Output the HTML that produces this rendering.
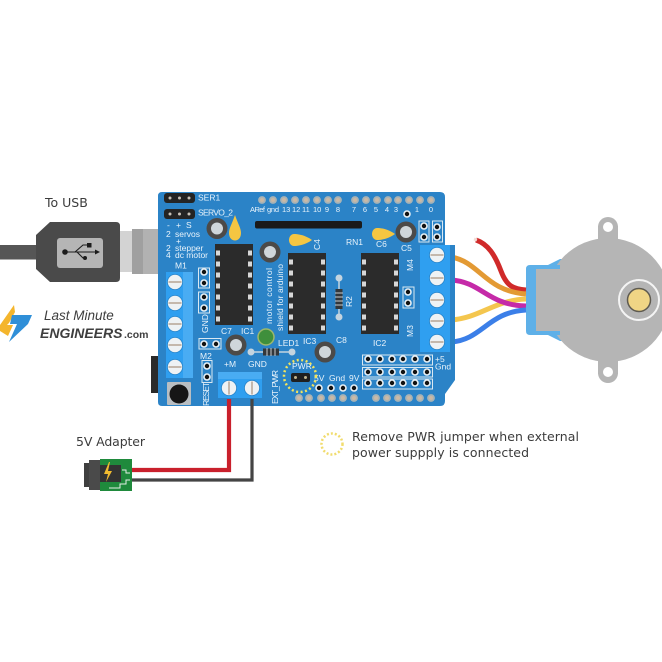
<!DOCTYPE html>
<html><head><meta charset="utf-8"><style>
html,body{margin:0;padding:0;background:#fff}
svg{display:block;filter:blur(.3px)}
text{font-family:"Liberation Sans",sans-serif;fill:#e8f3fb;font-size:8.5px}
.m{text-anchor:middle}
.d{font-family:"DejaVu Sans","Liberation Sans",sans-serif;fill:#3c3c3c;font-size:12.5px}
</style></head><body>
<svg width="662" height="662" viewBox="0 0 662 662" xmlns="http://www.w3.org/2000/svg">
<defs>
<g id="h"><circle r="3.8" fill="#e8f0f5"/><circle r="2.2" fill="#111"/></g>
<g id="p"><circle r="3.9" fill="#a9b3b5"/><circle r="2" fill="#cbb9a5"/></g>
<g id="s"><circle r="8" fill="#1f6fae" opacity=".6"/><circle r="7.2" fill="#eef2f4"/><rect x="-6.5" y="-.8" width="13" height="1.6" fill="#b9a99a"/></g>
<g id="pin"><path d="M-2-2.500H2V2.500H-2z" fill="#d8d8d8"/></g>
<g id="ic">
<rect width="38" height="81" fill="#2b2b2b"/>
<use href="#pin" x="3" y="9"/><use href="#pin" x="3" y="20"/><use href="#pin" x="3" y="31"/><use href="#pin" x="3" y="42"/><use href="#pin" x="3" y="53"/><use href="#pin" x="3" y="64"/><use href="#pin" x="3" y="75"/>
<use href="#pin" x="35" y="9"/><use href="#pin" x="35" y="20"/><use href="#pin" x="35" y="31"/><use href="#pin" x="35" y="42"/><use href="#pin" x="35" y="53"/><use href="#pin" x="35" y="64"/><use href="#pin" x="35" y="75"/>
</g>
<g id="cap"><circle r="10.500" fill="#4c4a48"/><circle r="6" fill="#cfd6da"/></g>
</defs>

<!-- motor -->
<circle cx="608" cy="227" r="10" fill="#b5b5b5"/><circle cx="608" cy="373" r="10" fill="#b5b5b5"/>
<rect x="598" y="226" width="20" height="20" fill="#b5b5b5"/><rect x="598" y="354" width="20" height="20" fill="#b5b5b5"/>
<circle cx="608" cy="227" r="5" fill="#fff"/><circle cx="608" cy="372" r="5" fill="#fff"/>
<path d="M548 265l12-6h20v82h-20l-12-6z" fill="#5eb0e8"/>
<circle cx="608" cy="300" r="62" fill="#b5b5b5"/>
<path d="M530 265h30v70h-30q-4 0-4-4v-62q0-4 4-4z" fill="#5eb0e8"/>
<rect x="536" y="269" width="50" height="62" fill="#b5b5b5"/>
<circle cx="639" cy="300" r="20" fill="#b5b5b5" stroke="#f4f4f4" stroke-width="2"/>
<circle cx="639" cy="300" r="11.500" fill="#f0d585" stroke="#5e5a50" stroke-width="1.500"/>

<!-- wires -->
<g fill="none" stroke-width="5">
<path d="M476 240C488 244 495 255 501 271S514 289 526 290" stroke="#d02a2a"/>
<path d="M474 239l3 1" stroke="#f3dcd5" stroke-width="3"/>
<path d="M451 257C480 262 485 291 526 294" stroke="#e39a34"/>
<path d="M451 320C480 318 495 300 526 299" stroke="#f4c64e"/>
<path d="M451 280C482 282 487 305 526 306" stroke="#c52aa8"/>
<path d="M451 342C482 340 488 312 526 310" stroke="#3b7fe8"/>
</g>

<!-- USB -->
<rect x="0" y="245" width="38" height="14.500" fill="#565656"/>
<rect x="120" y="231" width="13" height="41" fill="#d3d3d3"/>
<rect x="132" y="229" width="27" height="45" fill="#a0a0a0"/>
<rect x="143" y="229" width="16" height="45" fill="#b2b2b2"/>
<path d="M50 222H116q4 0 4 4v52q0 4-4 4H50L36 269V235z" fill="#4a4a4a"/>
<rect x="57" y="238" width="46" height="30" rx="3" fill="#b5b5b5"/>
<g stroke="#1c1c1c" stroke-width="1.100" fill="none"><path d="M65 252H97"/><path d="M75 252l8-7h6"/><path d="M77 252l6 6h2"/></g>
<circle cx="65" cy="252" r="2.800" fill="#1c1c1c"/><rect x="87" y="243" width="4.500" height="4.500" fill="#1c1c1c"/><circle cx="85" cy="258" r="2" fill="#1c1c1c"/><path d="M95 249.500l5 2.500-5 2.500z" fill="#1c1c1c"/>
<text class="d" x="45" y="207" style="font-size:12.500px">To USB</text>

<!-- logo -->
<path d="M14 305L0 325H7L9 323 15 312z" fill="#f4b52c"/>
<path d="M0 325H13L8 336 0 331z" fill="#f4b52c"/>
<path d="M12 315H32L28 324 9 342 17 324H10z" fill="#2f8fd8"/>
<text x="44" y="320" style="font-size:13.500px;font-style:italic;fill:#3e3e3e">Last Minute</text>
<text x="40" y="338" style="font-size:14px;font-style:italic;font-weight:bold;fill:#3e3e3e">ENGINEERS</text>
<text x="124" y="338" style="font-size:10.500px;font-weight:bold;fill:#3e3e3e">.com</text>

<!-- board -->
<rect x="151" y="356" width="9" height="37" fill="#2a2a2a"/>
<path d="M162 192H440q5 0 5 5V245H455V380L445 394V401q0 5-5 5H162q-4 0-4-4V196q0-4 4-4z" fill="#2b83c7"/>
<rect x="255" y="221" width="107" height="7.500" rx="2" fill="#1a1a1a"/>

<!-- headers -->
<rect x="164" y="193" width="31" height="10" rx="3" fill="#242424"/><rect x="164" y="209" width="31" height="10" rx="3" fill="#242424"/>
<g fill="#c9c2b8"><circle cx="170" cy="198" r="1.500"/><circle cx="179.500" cy="198" r="1.500"/><circle cx="189" cy="198" r="1.500"/><circle cx="170" cy="214" r="1.500"/><circle cx="179.500" cy="214" r="1.500"/><circle cx="189" cy="214" r="1.500"/></g>
<text x="198" y="200.500">SER1</text>
<text x="167" y="228">-</text><text x="176" y="228">+</text><text x="186" y="228">S</text>
<text x="166" y="237">2</text><text x="175" y="237">servos</text>
<text x="176" y="244">+</text>
<text x="166" y="251">2</text><text x="175" y="251">stepper</text>
<text x="166" y="258">4</text><text x="175" y="258" textLength="33">dc motor</text>
<text x="175" y="268.500">M1</text>

<!-- top holes -->
<use href="#p" x="262" y="200"/><use href="#p" x="273" y="200"/><use href="#p" x="284" y="200"/><use href="#p" x="295" y="200"/><use href="#p" x="306" y="200"/><use href="#p" x="317" y="200"/><use href="#p" x="328" y="200"/><use href="#p" x="338" y="200"/>
<use href="#p" x="355" y="200"/><use href="#p" x="366" y="200"/><use href="#p" x="377" y="200"/><use href="#p" x="388" y="200"/><use href="#p" x="398" y="200"/><use href="#p" x="409" y="200"/><use href="#p" x="420" y="200"/><use href="#p" x="431" y="200"/>
<g style="font-size:7.500px">
<text x="250" y="212" style="font-size:7.500px" textLength="15">ARef</text><text x="267" y="212" style="font-size:7.500px" textLength="12">gnd</text><text x="282" y="212" style="font-size:7.500px">13</text><text x="292" y="212" style="font-size:7.500px">12</text><text x="302" y="212" style="font-size:7.500px">11</text><text x="313" y="212" style="font-size:7.500px">10</text>
<text class="m" x="327" y="212" style="font-size:7.500px">9</text><text class="m" x="338" y="212" style="font-size:7.500px">8</text><text class="m" x="354" y="212" style="font-size:7.500px">7</text><text class="m" x="365" y="212" style="font-size:7.500px">6</text><text class="m" x="376" y="212" style="font-size:7.500px">5</text><text class="m" x="387" y="212" style="font-size:7.500px">4</text><text class="m" x="396" y="212" style="font-size:7.500px">3</text><text class="m" x="417" y="212" style="font-size:7.500px">1</text><text class="m" x="431" y="212" style="font-size:7.500px">0</text>
</g>
<use href="#h" x="407" y="214"/>

<!-- IC -->
<use href="#ic" x="215" y="244"/><use href="#ic" x="288" y="253"/><use href="#ic" x="361" y="253"/>

<!-- caps -->
<use href="#cap" x="217" y="228.500"/><use href="#cap" x="270" y="252"/><use href="#cap" x="406" y="232"/><use href="#cap" x="236" y="345"/><use href="#cap" x="325" y="352"/>
<path d="M235 215C232 224 229 228 229 233 229 238 232 240.500 235 240.500 238 240.500 241 238 241 233 241 228 238 224 235 215z" fill="#f5c642"/>
<path d="M312 240C305 235 298 234 294 234 291 234 289 237 289 240 289 243 291 246 294 246 298 246 305 245 312 240z" fill="#f5c642"/>
<path d="M395 234C388 229 381 228 377 228 374 228 372 231 372 234 372 237 374 240 377 240 381 240 388 239 395 234z" fill="#f5c642"/>

<!-- labels -->
<text x="198" y="215.500" textLength="35">SERVO_2</text>
<text x="221" y="334">C7</text><text x="241" y="334">IC1</text>
<text x="303" y="344">IC3</text><text x="336" y="343">C8</text><text x="373" y="346">IC2</text>
<text x="346" y="245">RN1</text><text x="376" y="247">C6</text><text x="401" y="251">C5</text>
<text x="278" y="346">LED1</text>
<text x="224" y="367">+M</text><text x="248" y="367">GND</text>
<text x="292" y="369">PWR</text>
<text x="314" y="381">5V</text><text x="329" y="381">Gnd</text><text x="349" y="381">9V</text>
<text x="435" y="362">+5</text><text x="435" y="369.500">Gnd</text>
<text x="200" y="359">M2</text>
<text transform="translate(320 250) rotate(-90)">C4</text>
<text transform="translate(413 271) rotate(-90)">M4</text>
<text transform="translate(413 337) rotate(-90)">M3</text>
<text transform="translate(352 307) rotate(-90)">R2</text>
<text transform="translate(208 333) rotate(-90)">GND</text>
<text transform="translate(209 406) rotate(-90)" textLength="24">RESET</text>
<text transform="translate(278 404) rotate(-90)" textLength="34">EXT_PWR</text>
<text transform="translate(272 324) rotate(-90)" textLength="56">motor control</text>
<text transform="translate(283 331) rotate(-90)" textLength="67">shield for arduino</text>

<!-- small headers -->
<g fill="none" stroke="#d9e8f2" stroke-width="1">
<rect x="198.500" y="268" width="11" height="20"/><rect x="198.500" y="292" width="11" height="21"/><rect x="199" y="338.500" width="22" height="10.500"/><rect x="202" y="360.500" width="10" height="22"/>
<rect x="419" y="221" width="10" height="21"/><rect x="432.500" y="221" width="10" height="21"/><rect x="403" y="287" width="11" height="21"/>
<rect x="362.500" y="355" width="70" height="10"/><rect x="362.500" y="367.500" width="70" height="9.500"/><rect x="362.500" y="379" width="70" height="10"/>
</g>
<use href="#h" x="204" y="272"/><use href="#h" x="204" y="283"/><use href="#h" x="204" y="297"/><use href="#h" x="204" y="308"/>
<use href="#h" x="204" y="344"/><use href="#h" x="216" y="344"/><use href="#h" x="207" y="366"/><use href="#h" x="207" y="377"/>
<use href="#h" x="424" y="226"/><use href="#h" x="437" y="227"/><use href="#h" x="424" y="237"/><use href="#h" x="437" y="237"/>
<use href="#h" x="408" y="292"/><use href="#h" x="408" y="303"/>
<use href="#h" x="368" y="359"/><use href="#h" x="380" y="359"/><use href="#h" x="392" y="359"/><use href="#h" x="403" y="359"/><use href="#h" x="415" y="359"/><use href="#h" x="427" y="359"/>
<use href="#h" x="368" y="372"/><use href="#h" x="380" y="372"/><use href="#h" x="392" y="372"/><use href="#h" x="403" y="372"/><use href="#h" x="415" y="372"/><use href="#h" x="427" y="372"/>
<use href="#h" x="368" y="383"/><use href="#h" x="380" y="383"/><use href="#h" x="392" y="383"/><use href="#h" x="403" y="383"/><use href="#h" x="415" y="383"/><use href="#h" x="427" y="383"/>
<use href="#h" x="319" y="388"/><use href="#h" x="331" y="388"/><use href="#h" x="343" y="388"/><use href="#h" x="354" y="388"/>
<use href="#p" x="299" y="398"/><use href="#p" x="309" y="398"/><use href="#p" x="321" y="398"/><use href="#p" x="332" y="398"/><use href="#p" x="343" y="398"/><use href="#p" x="354" y="398"/>
<use href="#p" x="376" y="398"/><use href="#p" x="387" y="398"/><use href="#p" x="398" y="398"/><use href="#p" x="409" y="398"/><use href="#p" x="420" y="398"/><use href="#p" x="431" y="398"/>

<!-- terminals -->
<rect x="166" y="272" width="27" height="106" fill="#2f9ff0"/>
<rect x="183" y="272" width="10" height="106" fill="#49acf3"/>
<rect x="420" y="245" width="30" height="107" fill="#2f9ff0"/>
<rect x="218" y="372" width="44" height="26" fill="#2f9ff0"/><rect x="218" y="372" width="44" height="7" fill="#49acf3"/>
<use href="#s" x="175" y="282"/><use href="#s" x="175" y="303"/><use href="#s" x="175" y="324"/><use href="#s" x="175" y="345"/><use href="#s" x="175" y="367"/>
<use href="#s" x="437" y="255"/><use href="#s" x="437" y="278"/><use href="#s" x="437" y="300"/><use href="#s" x="437" y="321"/><use href="#s" x="437" y="342"/>
<g transform="translate(229 388) rotate(90)"><use href="#s"/></g><g transform="translate(252 388) rotate(90)"><use href="#s"/></g>

<!-- reset -->
<rect x="167" y="382" width="24" height="23" rx="1" fill="#b9bec2"/><circle cx="179" cy="394" r="9.500" fill="#161616"/>

<!-- LED + resistors -->
<circle cx="266" cy="337" r="8" fill="#3f8f3c" stroke="#9db86c" stroke-width="1.500"/>
<path d="M251 352H292" stroke="#c4d4df" stroke-width="1.500"/><circle cx="251" cy="352" r="3.500" fill="#c4d4df"/><circle cx="292" cy="352" r="3.500" fill="#c4d4df"/>
<rect x="263" y="348.500" width="16" height="7" fill="#33373a"/><path d="M267 348v8M271 348v8M275 348v8" stroke="#c7ccd0"/>
<path d="M339 278V317" stroke="#c4d4df" stroke-width="1.500"/><circle cx="339" cy="278" r="3.500" fill="#c4d4df"/><circle cx="339" cy="317" r="3.500" fill="#c4d4df"/>
<rect x="335.500" y="289" width="7" height="20" fill="#33373a"/><path d="M335 293h8M335 297h8M335 301h8M335 305h8" stroke="#c7ccd0"/>

<!-- PWR -->
<circle cx="300" cy="376" r="16" fill="none" stroke="#f3e45c" stroke-width="2.500" stroke-dasharray="2 2.500"/>
<rect x="291" y="373" width="19" height="9" rx="2" fill="#1f1f1f"/><circle cx="295.500" cy="377.500" r="1.500" fill="#c2b58f"/><circle cx="305.500" cy="377.500" r="1.500" fill="#c2b58f"/>

<!-- power wires -->
<path d="M229 399V470H132" fill="none" stroke="#c9202c" stroke-width="4.200"/>
<path d="M252 399V480H132" fill="none" stroke="#444" stroke-width="3.200"/>

<!-- adapter -->
<rect x="84" y="463" width="17" height="24" fill="#3f3f3f"/><rect x="89" y="460" width="12" height="30" fill="#4a4a4a"/>
<rect x="100" y="459" width="32" height="32" fill="#1f8a3c"/>
<rect x="100" y="465" width="21" height="17" fill="#333"/>
<path d="M109 462l-5 12h4l-2 8 6-11h-4l2-9z" fill="#f0bb30"/>
<path d="M109 488H120V484H126V480H130M122 470H126V473H130" fill="none" stroke="#e4efe6" stroke-width="1"/>
<text class="d" x="76" y="446" textLength="69">5V Adapter</text>

<!-- note -->
<circle cx="332" cy="444" r="10.500" fill="none" stroke="#f1dc6e" stroke-width="2.500" stroke-dasharray="2 2"/>
<text class="d" x="352" y="441" textLength="227">Remove PWR jumper when external</text>
<text class="d" x="352" y="457" textLength="177">power suppply is connected</text>
</svg>
</body></html>
